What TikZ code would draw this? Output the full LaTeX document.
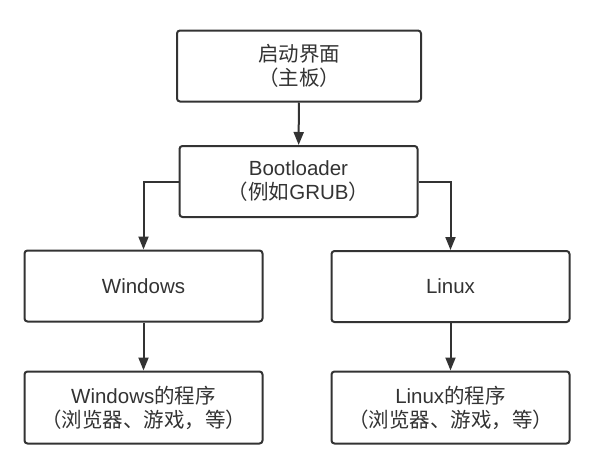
\documentclass[tikz,border=0pt]{standalone}
\usepackage{fontspec}
\setmainfont{Liberation Sans}
\newfontfamily\cjk{Noto Sans CJK SC}
\usetikzlibrary{arrows.meta}
\definecolor{ink}{HTML}{333333}
\tikzset{
  box/.style={draw=ink, line width=2pt, rounded corners=3pt, fill=white,
    minimum width=238pt, minimum height=71pt, inner sep=0pt, align=center,
    text=ink, font=\fontsize{20.5}{24}\selectfont},
  conn/.style={draw=ink, line width=2pt, -{Triangle[width=10pt,length=13pt]}}
}
\begin{document}
\begin{tikzpicture}[x=1pt,y=1pt]
\useasboundingbox (0,0) rectangle (594,-471);
\node[box, minimum width=244pt] (boot) at (299,-66) {{\cjk 启动界面}\\{\cjk （主板）}};
\node[box] (loader) at (298.5,-181.5) {Bootloader\\{\cjk （例如}GRUB{\cjk ）}};
\node[box] (win) at (143.5,-286) {Windows};
\node[box, minimum height=72pt] (winapp) at (143.5,-407.5) {Windows{\cjk 的程序}\\{\cjk （浏览器、游戏，等）}};
\node[box] (lin) at (450.5,-286.5) {Linux};
\node[box, minimum height=72pt] (linapp) at (450.5,-407.5) {Linux{\cjk 的程序}\\{\cjk （浏览器、游戏，等）}};
\draw[conn] (boot) -- (loader);
\draw[conn] (loader.west) -| (win.north);
\draw[conn] (loader.east) -| (lin.north);
\draw[conn] (win) -- (winapp);
\draw[conn] (lin) -- (linapp);
\end{tikzpicture}
\end{document}
